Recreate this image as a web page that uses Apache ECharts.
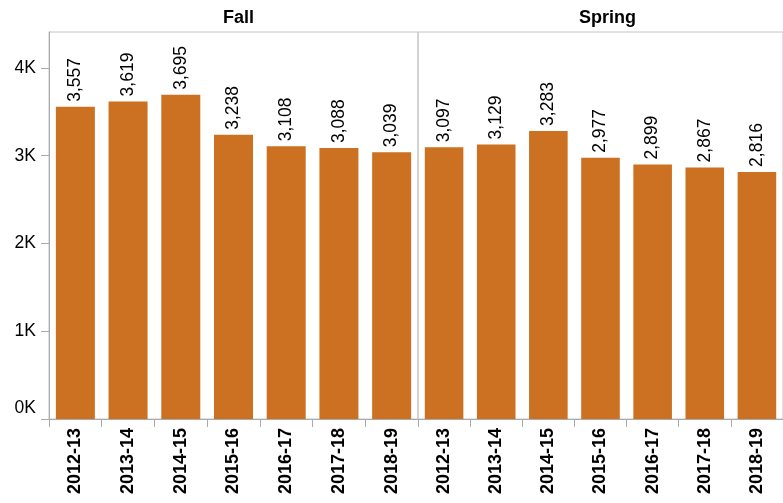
<!DOCTYPE html>
<html>
<head>
<meta charset="utf-8">
<script src="https://cdn.jsdelivr.net/npm/echarts@6/dist/echarts.min.js"></script>
<style>html,body{margin:0;padding:0;background:#fff}#c{width:783px;height:503px}</style>
</head>
<body>
<div id="c"></div>
<script>
var years = ['2012-13','2013-14','2014-15','2015-16','2016-17','2017-18','2018-19'];
var facets = ['Fall','Spring'];
var fallValues = [3557, 3619, 3695, 3238, 3108, 3088, 3039];
var springValues = [3097, 3129, 3283, 2977, 2899, 2867, 2816];
var yTicks = [0, 1000, 2000, 3000, 4000];
var yMax = 4410;

var FONT = 'Liberation Sans, Arial, Helvetica, sans-serif';
var barColor = '#CB7121';
var chart = echarts.init(document.getElementById('c'));

function fmt(v){ return String(v).replace(/\B(?=(\d{3})+(?!\d))/g, ','); }

var grids = [
  {left: 49, top: 32, width: 369, height: 387, show: true, borderColor: '#c4c4c4', borderWidth: 1, backgroundColor: 'transparent'},
  {left: 418, top: 32, width: 369, height: 387, show: true, borderColor: '#c4c4c4', borderWidth: 1, backgroundColor: 'transparent'}
];

function xAxis(i){
  return {
    type: 'category', gridIndex: i, data: years,
    axisLine: {show: true, lineStyle: {color: '#aaa', width: 1}},
    axisTick: {show: true, length: 8, lineStyle: {color: '#aaa'}},
    axisLabel: {rotate: 90, margin: 9, fontFamily: FONT, fontSize: 18, fontWeight: 'bold', color: '#000'}
  };
}
function yAxis(i){
  return {
    type: 'value', gridIndex: i, min: 0, max: yMax, interval: 1000,
    show: i === 0,
    splitLine: {show: false},
    axisLine: {show: true, lineStyle: {color: '#aaa'}},
    axisTick: {show: true, length: 8, lineStyle: {color: '#aaa'}, customValues: yTicks},
    axisLabel: {margin: 13, fontFamily: FONT, fontSize: 17.5, color: '#000', customValues: yTicks,
      formatter: function(v){ return v === 0 ? '{z|0K}' : (v/1000) + 'K'; },
      rich: {z: {fontFamily: FONT, fontSize: 17.5, color: '#000', padding: [0, 0, 21, 0]}}}
  };
}
function series(i, vals){
  return {
    type: 'bar', xAxisIndex: i, yAxisIndex: i, data: vals,
    barCategoryGap: '26%',
    itemStyle: {color: barColor},
    label: {show: true, position: 'top', distance: 5, rotate: 90, align: 'left', verticalAlign: 'middle',
      fontFamily: FONT, fontSize: 17.5, color: '#000', formatter: function(p){ return fmt(p.value); }},
    emphasis: {disabled: true}, animation: false
  };
}

chart.setOption({
  animation: false,
  title: [
    {text: facets[0], left: 233.5, top: 4, textAlign: 'center', textStyle: {fontFamily: FONT, fontSize: 18, fontWeight: 'bold', color: '#000'}},
    {text: facets[1], left: 602.5, top: 4, textAlign: 'center', textStyle: {fontFamily: FONT, fontSize: 18, fontWeight: 'bold', color: '#000'}}
  ],
  grid: grids,
  xAxis: [xAxis(0), xAxis(1)],
  yAxis: [yAxis(0), yAxis(1)],
  series: [series(0, fallValues), series(1, springValues)]
});
</script>
</body>
</html>
